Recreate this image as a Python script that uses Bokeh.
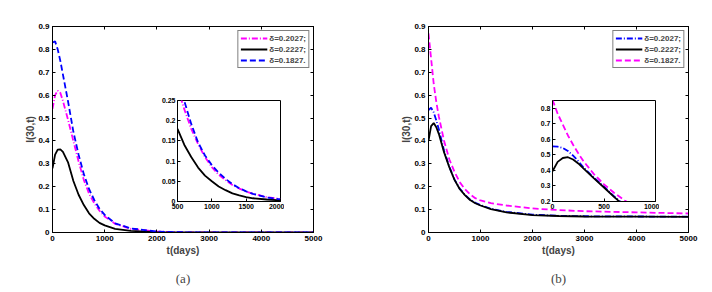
from bokeh.plotting import figure
from bokeh.models import Range1d, LinearAxis, FixedTicker, Legend, LegendItem, Title, Row, Column
from bokeh.embed import file_html
from bokeh.resources import INLINE

# ---------------- data ----------------
t_main = [0, 50, 100, 150, 200, 300, 400, 500, 600, 700, 800, 900, 1000, 1200, 1500, 2000, 2500, 3000, 4000, 5000]

# panel (a)
a_d2027 = [0.54, 0.60, 0.62, 0.61, 0.575, 0.49, 0.40, 0.31, 0.23, 0.17, 0.128, 0.095, 0.07, 0.038, 0.016, 0.004, 0.001, 0.0, 0.0, 0.0]
a_d2227 = [0.28, 0.34, 0.362, 0.363, 0.352, 0.305, 0.225, 0.165, 0.12, 0.084, 0.06, 0.042, 0.031, 0.016, 0.007, 0.002, 0.0005, 0.0, 0.0, 0.0]
a_d1827 = [0.83, 0.835, 0.80, 0.75, 0.69, 0.57, 0.44, 0.34, 0.255, 0.19, 0.142, 0.104, 0.077, 0.04, 0.018, 0.004, 0.001, 0.0, 0.0, 0.0]

# panel (b)
b_d2027 = [0.535, 0.545, 0.525, 0.49, 0.45, 0.357, 0.288, 0.232, 0.192, 0.165, 0.144, 0.13, 0.12, 0.104, 0.09, 0.078, 0.073, 0.071, 0.07, 0.069]
b_d2227 = [0.40, 0.465, 0.478, 0.46, 0.43, 0.35, 0.285, 0.23, 0.19, 0.163, 0.142, 0.128, 0.118, 0.102, 0.088, 0.076, 0.072, 0.07, 0.069, 0.068]
b_d1827 = [0.87, 0.76, 0.65, 0.57, 0.505, 0.40, 0.32, 0.265, 0.22, 0.19, 0.167, 0.15, 0.14, 0.128, 0.118, 0.105, 0.098, 0.093, 0.088, 0.083]

# inset (a)
t_inset_a = [500, 550, 600, 700, 800, 900, 1000, 1100, 1200, 1300, 1400, 1500, 1600, 1800, 2000]
ia_d2027 = [0.285, 0.255, 0.228, 0.18, 0.142, 0.11, 0.085, 0.066, 0.053, 0.041, 0.032, 0.025, 0.019, 0.011, 0.006]
ia_d2227 = [0.18, 0.16, 0.14, 0.11, 0.084, 0.064, 0.05, 0.037, 0.028, 0.02, 0.015, 0.011, 0.008, 0.005, 0.003]
ia_d1827 = [0.31, 0.28, 0.248, 0.192, 0.146, 0.114, 0.09, 0.071, 0.056, 0.043, 0.033, 0.025, 0.019, 0.010, 0.005]

# inset (b)
t_inset_b = [0, 50, 100, 150, 200, 250, 300, 400, 500, 600, 700, 800, 1000]
ib_d2027 = [0.555, 0.553, 0.545, 0.525, 0.495, 0.46, 0.42, 0.355, 0.295, 0.232, 0.175, 0.133, 0.093]
ib_d2227 = [0.395, 0.455, 0.48, 0.485, 0.47, 0.445, 0.413, 0.35, 0.29, 0.228, 0.17, 0.13, 0.09]
ib_d1827 = [0.855, 0.765, 0.695, 0.625, 0.565, 0.51, 0.46, 0.378, 0.31, 0.255, 0.207, 0.17, 0.12]

labels = ["\u03b4=0.2027;", "\u03b4=0.2227;", "\u03b4=0.1827."]

main_xticks = [0, 1000, 2000, 3000, 4000, 5000]
main_xtick_labels = ["0", "1000", "2000", "3000", "4000", "5000"]
main_yticks = [0, 0.1, 0.2, 0.3, 0.4, 0.5, 0.6, 0.7, 0.8, 0.9]
main_ytick_labels = ["0", "0.1", "0.2", "0.3", "0.4", "0.5", "0.6", "0.7", "0.8", "0.9"]
ia_xticks = [500, 1000, 1500, 2000]
ia_xtick_labels = ["500", "1000", "1500", "2000"]
ia_yticks = [0, 0.05, 0.1, 0.15, 0.2, 0.25]
ia_ytick_labels = ["0", "0.05", "0.1", "0.15", "0.2", "0.25"]
ib_xticks = [0, 500, 1000]
ib_xtick_labels = ["0", "500", "1000"]
ib_yticks = [0.2, 0.3, 0.4, 0.5, 0.6, 0.7, 0.8]
ib_ytick_labels = ["0.2", "0.3", "0.4", "0.5", "0.6", "0.7", "0.8"]

FONT = "Liberation Sans"
MAGENTA = "#ff00ff"
BLUE = "#0000ff"
BLACK = "#000000"
DASH = "6 3"
DASHDOT = "6 2 1 2"


def style_axes(p, xticks, xlabels, yticks, ylabels, fsize, mirror):
    p.grid.visible = False
    p.outline_line_color = "black"
    p.outline_line_width = 1
    if mirror:
        p.add_layout(LinearAxis(), "above")
        p.add_layout(LinearAxis(), "right")
    for ax in p.xaxis:
        ax.ticker = FixedTicker(ticks=xticks)
        ax.major_label_overrides = dict(zip(xticks, xlabels))
    for ax in p.yaxis:
        ax.ticker = FixedTicker(ticks=yticks)
        ax.major_label_overrides = dict(zip(yticks, ylabels))
    for ax in p.axis:
        ax.major_tick_in = 3
        ax.major_tick_out = 0
        ax.minor_tick_in = 0
        ax.minor_tick_out = 0
        ax.axis_line_color = "black"
        ax.major_tick_line_color = "black"
        ax.major_label_text_font = FONT
        ax.major_label_text_font_size = fsize
        ax.major_label_text_font_style = "bold"
        ax.major_label_text_color = "black"
        ax.major_label_standoff = 3
    if mirror:
        for ax in (p.above[0], p.right[0]):
            ax.major_label_text_color = None
            ax.major_label_standoff = 0


def make_main(series, colors, dashes, border_left, border_right, frame_w, panel):
    p = figure(output_backend="svg", toolbar_location=None,
               frame_width=frame_w, frame_height=206,
               min_border_left=border_left, min_border_right=border_right,
               min_border_top=26, min_border_bottom=60,
               x_range=Range1d(0, 5000), y_range=Range1d(0, 0.9))
    p.background_fill_color = "white"
    p.border_fill_color = "white"
    items = []
    for ys, c, d, lab in zip(series, colors, dashes, labels):
        r = p.line(t_main, ys, line_color=c, line_dash=d, line_width=1.8)
        items.append(LegendItem(label=lab, renderers=[r]))
    style_axes(p, main_xticks, main_xtick_labels, main_yticks, main_ytick_labels, "8px", True)
    xa = p.below[0]
    ya = p.left[0]
    xa.axis_label = "t(days)"
    ya.axis_label = "I(30,t)"
    for ax in (xa, ya):
        ax.axis_label_text_font = FONT
        ax.axis_label_text_font_size = "10px"
        ax.axis_label_text_font_style = "bold"
    xa.axis_label_standoff = 1
    ya.axis_label_standoff = -1
    leg = Legend(items=items, location="top_right")
    leg.margin = 4
    leg.padding = 2
    leg.spacing = 1
    leg.glyph_width = 27
    leg.glyph_height = 10
    leg.label_height = 10
    leg.label_standoff = 2
    leg.label_text_font = FONT
    leg.label_text_font_size = "8px"
    leg.label_text_font_style = "bold"
    leg.border_line_color = "black"
    leg.border_line_width = 1
    leg.background_fill_alpha = 1
    p.add_layout(leg)
    ttl = Title(text=panel, align="center", text_font="Liberation Serif",
                text_font_size="13px", text_font_style="normal", standoff=20)
    p.add_layout(ttl, "below")
    return p


def make_inset(ts, series, colors, dashes, xr, yr, xt, xl, yt, yl, shift_left):
    p = figure(output_backend="svg", toolbar_location=None,
               width=131, height=121,
               min_border_left=24, min_border_right=4,
               min_border_top=4, min_border_bottom=16,
               x_range=Range1d(*xr), y_range=Range1d(*yr),
               margin=(0, 0, 0, shift_left))
    p.background_fill_color = "white"
    p.border_fill_alpha = 0
    for ys, c, d in zip(series, colors, dashes):
        p.line(ts, ys, line_color=c, line_dash=d, line_width=1.8)
    style_axes(p, xt, xl, yt, yl, "7px", False)
    for ax in p.axis:
        ax.major_label_standoff = 2
    return p


pa = make_main([a_d2027, a_d2227, a_d1827], [MAGENTA, BLACK, BLUE], [DASHDOT, "solid", DASH],
               52, 55, 261, "(a)")
pb = make_main([b_d2027, b_d2227, b_d1827], [BLUE, BLACK, MAGENTA], [DASHDOT, "solid", DASH],
               60, 16, 260, "(b)")

ia = make_inset(t_inset_a, [ia_d2027, ia_d2227, ia_d1827], [MAGENTA, BLACK, BLUE], [DASHDOT, "solid", DASH],
                (500, 2000), (0, 0.25), ia_xticks, ia_xtick_labels, ia_yticks, ia_ytick_labels, 153)
ib = make_inset(t_inset_b, [ib_d2027, ib_d2227, ib_d1827], [BLUE, BLACK, MAGENTA], [DASHDOT, "solid", DASH],
                (0, 1000), (0.2, 0.85), ib_xticks, ib_xtick_labels, ib_yticks, ib_ytick_labels, 244)

mains = Row(children=[pa, pb])
insets = Row(children=[ia, ib], margin=(-199, 0, 0, 0))
root = Column(children=[mains, insets])

open("out.html", "w").write(file_html(root, INLINE))
